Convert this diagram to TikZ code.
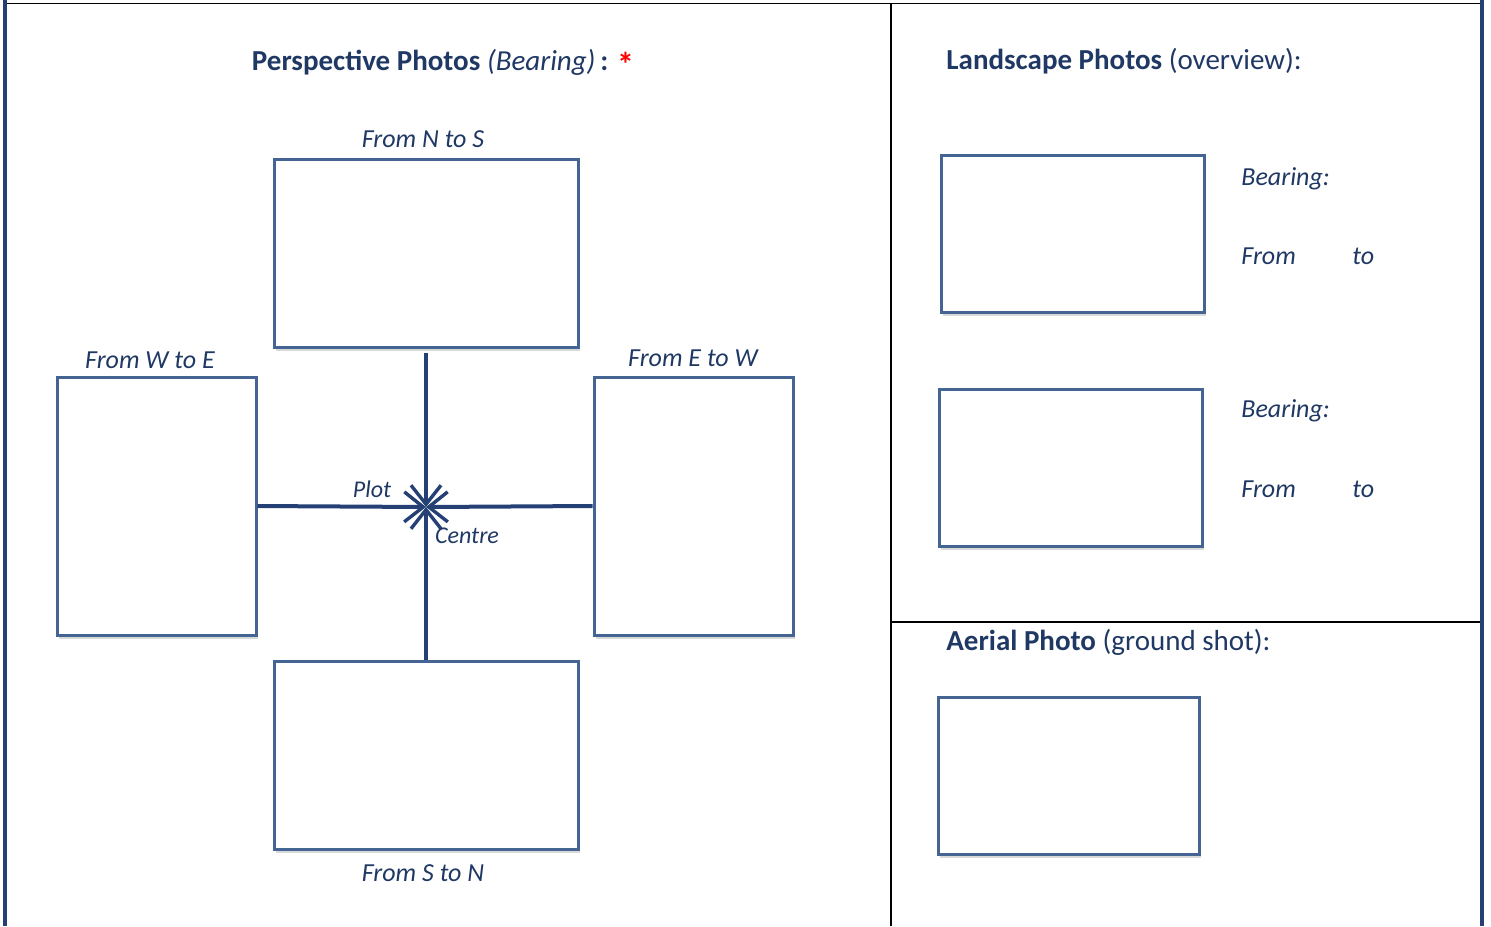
\documentclass[tikz,border=0pt]{standalone}
\usepackage{fontspec}
\setmainfont{Carlito}
\usetikzlibrary{arrows.meta,shadows,positioning}
\definecolor{sheettext}{RGB}{31,56,100}
\definecolor{sheetline}{RGB}{36,64,116}
\definecolor{sheetborder}{RGB}{68,100,148}
\tikzset{
  sheet frame/.style={draw=sheetline,line width=1.6pt},
  sheet rule/.style={draw=black,line width=0.6pt},
  sheet box/.style={draw=sheetborder,line width=1.5pt,fill=white,inner sep=0pt,
    drop shadow={shadow xshift=1.2pt,shadow yshift=-1.8pt,opacity=0.3}},
  sheet arrow/.style={-{Straight Barb[length=9.5pt,width=15pt,line width=1.7pt]},
    line width=2pt,draw=sheetline},
  sheet title/.style={font=\fontsize{14.5}{17}\selectfont,text=sheettext,inner sep=0pt},
  sheet label/.style={font=\fontsize{13}{15}\selectfont\itshape,text=sheettext,inner sep=0pt},
  sheet note/.style={font=\fontsize{12}{14}\selectfont\itshape,text=sheettext,inner sep=0pt}
}
\begin{document}
\begin{tikzpicture}[x=0.5pt,y=-0.5pt]
  \useasboundingbox (0,0) rectangle (1491,926);
  % frame
  \draw[sheet rule] (5,3.5) -- (1482,3.5);
  \draw[sheet rule] (891,3.5) -- (891,926);
  \draw[sheet rule] (891,622) -- (1482,622);
  \draw[sheet frame] (5,0) -- (5,926);
  \draw[sheet frame] (1482,0) -- (1482,926);

  % perspective photos
  \node[sheet title,anchor=base] (ptitle) at (443,70)
    {\textbf{Perspective Photos} \textit{(Bearing)}\,\textbf{:}
     \raisebox{-3pt}{\textcolor{red}{\fontsize{17}{17}\selectfont\textbf{*}}}};
  \node[sheet box,minimum width=152pt,minimum height=94pt] (north) at (426,253) {};
  \node[sheet box,minimum width=99.5pt,minimum height=129pt] (west) at (156.5,506) {};
  \node[sheet box,minimum width=99.5pt,minimum height=129pt] (east) at (693.5,506) {};
  \node[sheet box,minimum width=152pt,minimum height=94pt] (south) at (426,755) {};
  \node[sheet label] (nlabel) at (423,139) {From N to S};
  \node[sheet label] (wlabel) at (150,360) {From W to E};
  \node[sheet label] (elabel) at (693,358) {From E to W};
  \node[sheet label] (slabel) at (423,873) {From S to N};

  \coordinate (centre) at (426,507);
  \draw[sheet arrow,shorten <=2pt] (north.south) -- (centre);
  \draw[sheet arrow] (south.north) -- (centre);
  \draw[sheet arrow] (west.east) -- (centre);
  \draw[sheet arrow] (east.west) -- (centre);
  \node[sheet note] (plot) at (372,489) {Plot};
  \node[sheet note] (ctext) at (467,536) {Centre};

  % landscape photos
  \node[sheet title,anchor=west] (ltitle) at (946,61)
    {\textbf{Landscape Photos} (overview):};
  \node[sheet box,minimum width=131.5pt,minimum height=78.5pt] (land1) at (1072.5,233.5) {};
  \node[sheet box,minimum width=131.5pt,minimum height=78.5pt] (land2) at (1070.5,467.5) {};
  \node[sheet label,anchor=west] (bear1) at (1241,179) {Bearing:};
  \node[sheet label,anchor=west] (from1) at (1241,256) {From};
  \node[sheet label,anchor=west] (to1) at (1352,256) {to};
  \node[sheet label,anchor=west] (bear2) at (1241,411) {Bearing:};
  \node[sheet label,anchor=west] (from2) at (1241,489) {From};
  \node[sheet label,anchor=west] (to2) at (1352,489) {to};

  % aerial photo
  \node[sheet title,anchor=west] (atitle) at (946,642)
    {\textbf{Aerial Photo} (ground shot):};
  \node[sheet box,minimum width=130.5pt,minimum height=78.5pt] (aerial) at (1068.5,775.5) {};
\end{tikzpicture}
\end{document}
